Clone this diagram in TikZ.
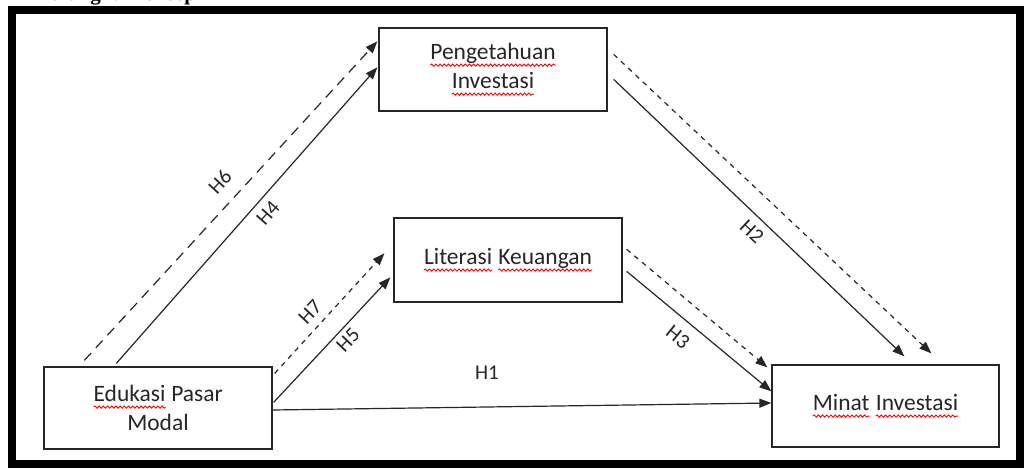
\documentclass[tikz,border=0pt]{standalone}
\usepackage{fontspec}
\setmainfont{Carlito}
\newfontfamily\titlefont{Liberation Serif}
\usetikzlibrary{arrows.meta,calc,decorations.pathmorphing}
% red spell-check wave under a word
\newcommand\spell[1]{\tikz[baseline=(w.base)]{%
  \node[inner sep=0pt, outer sep=0pt, draw=none, minimum width=0pt, minimum height=0pt, rotate=0, anchor=base] (w) {#1};
  \draw[red, line width=0.9pt, decorate, decoration={snake, amplitude=1.1pt, segment length=4.2pt}]
    ([yshift=-5.5pt]w.base west) -- ([yshift=-5.5pt]w.base east);}}
\tikzset{
        varbox/.style={draw=black!85, line width=1.3pt, minimum width=228pt, minimum height=83pt,
          align=center, text=black!85, font=\fontsize{23.5}{29}\selectfont},
        link/.style={line width=1.2pt, black!85, -{Triangle[length=12pt,width=9pt]}},
        linkdash/.style={link, dash pattern=on 5pt off 5pt},
        longdash/.style={link, dash pattern=on 10pt off 7pt},
        hlabel/.style={font=\fontsize{21}{24}\selectfont, text=black!85, inner sep=1pt}
          }
\begin{document}
\begin{tikzpicture}[x=1pt, y=-1pt]
        \useasboundingbox (0,0) rectangle (1024,468);
        \fill[white] (0,0) rectangle (1024,468);
        \begin{scope}
          \clip (0,0) rectangle (1024,468);
          \node[anchor=base west, inner sep=0, font=\titlefont\bfseries\fontsize{21}{21}\selectfont] (title) at (33,0.5) {Kerangka Konsep};
        \end{scope}
        \draw[line width=8pt] (12,10) rectangle (1020,464);

        % variables
        \node[varbox] (peng) at (493,69.5) {\spell{Pengetahuan}\\\spell{Investasi}};
        \node[varbox, minimum height=84pt] (lit) at (508,260) {\spell{Literasi} \spell{Keuangan}};
        \node[varbox, minimum height=82pt] (edu) at (158,408) {\spell{Edukasi} Pasar\\Modal};
        \node[varbox, minimum width=227pt, minimum height=82pt] (minat) at (885.5,406) {\spell{Minat} \spell{Investasi}};

        % hypotheses
        \draw[longdash] ($(edu.north west)+(41,-6)$) -- ($(peng.north west)+(-1,14)$);
        \draw[link] ($(edu.north west)+(73,-3)$) -- ($(peng.north west)+(-1,40)$);
        \draw[linkdash] ($(peng.north east)+(6,27)$) -- ($(minat.north west)+(160,-11)$);
        \draw[link] ($(peng.north east)+(6,52)$) -- ($(minat.north west)+(133,-8)$);
        \draw[linkdash] ($(edu.north east)+(2,7)$) -- ($(lit.north west)+(-9,36)$);
        \draw[link] ($(edu.north east)+(1,36)$) -- ($(lit.north west)+(-3,60)$);
        \draw[linkdash] ($(lit.north east)+(4,32)$) -- ($(minat.north west)+(-4,3)$);
        \draw[link] ($(lit.north east)+(4,54)$) -- ($(minat.north west)+(0,27)$);
        \draw[link] ($(edu.east)+(0,2)$) -- ($(minat.west)+(0,-3)$);

        \node[hlabel, rotate=47.5] (h6) at (220,182) {H6};
        \node[hlabel, rotate=48.5] (h4) at (268,213) {H4};
        \node[hlabel, rotate=47] (h7) at (310,312) {H7};
        \node[hlabel, rotate=46] (h5) at (348,340) {H5};
        \node[hlabel, rotate=-39] (h3) at (678,337) {H3};
        \node[hlabel, rotate=-43] (h2) at (752,232) {H2};
        \node[hlabel] (h1) at (487,373) {H1};
      \end{tikzpicture}
\end{document}
